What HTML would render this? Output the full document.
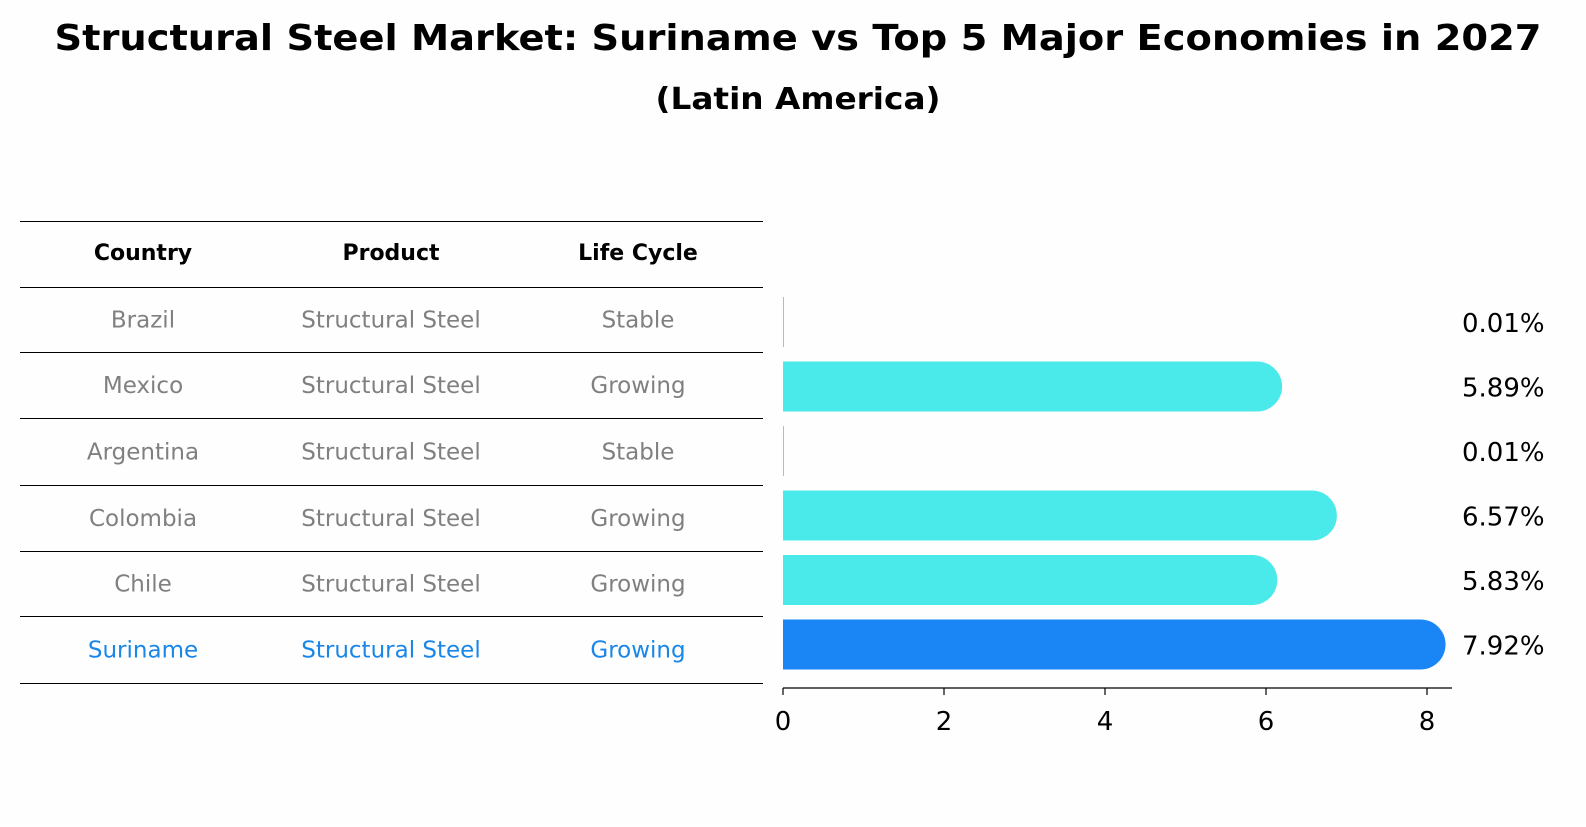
<!DOCTYPE html>
<html><head><meta charset="utf-8"><style>
body{margin:0;background:#fff;font-family:"DejaVu Sans","Liberation Sans",sans-serif;}
</style></head><body>
<svg width="1586" height="823" xmlns="http://www.w3.org/2000/svg" font-family="DejaVu Sans, Liberation Sans, sans-serif">
<rect width="1586" height="823" fill="#fefefe"/>
<text x="798" y="50" text-anchor="middle" font-size="36" font-weight="bold" textLength="1487" lengthAdjust="spacingAndGlyphs">Structural Steel Market: Suriname vs Top 5 Major Economies in 2027</text>
<text x="798" y="109" text-anchor="middle" font-size="30" font-weight="bold" textLength="285" lengthAdjust="spacingAndGlyphs">(Latin America)</text>
<g id="table"></g>
<g id="bars"></g>
</svg>
<script>
const countries=["Brazil","Mexico","Argentina","Colombia","Chile","Suriname"];
const products=["Structural Steel","Structural Steel","Structural Steel","Structural Steel","Structural Steel","Structural Steel"];
const lifecycle=["Stable","Growing","Stable","Growing","Growing","Growing"];
const values=[0.01,5.89,0.01,6.57,5.83,7.92];
const ticks=[0,2,4,6,8];
const NS="http://www.w3.org/2000/svg";
const x0=783, pxPerUnit=80.5;
const xs=v=>x0+v*pxPerUnit;
const rowY=i=>322+i*64.5;
function mk(tag,attrs,parent,text){const e=document.createElementNS(NS,tag);for(const k in attrs)e.setAttribute(k,attrs[k]);if(text!==undefined)e.textContent=text;parent.appendChild(e);return e;}
const tb=document.getElementById('table');
const lines=[221,287,352,418,485,551,616,683];
lines.forEach(y=>{const l=mk('line',{x1:20,x2:763,y1:y+0.5,y2:y+0.5,stroke:'#000','stroke-width':1},tb);

});
const cx=[143,391,638];
["Country","Product","Life Cycle"].forEach((h,j)=>{const t=mk('text',{x:cx[j],y:260,'text-anchor':'middle','font-size':22,'font-weight':'bold'},tb,h);

});
countries.forEach((c,i)=>{
  const col=i===5?'#1a86e8':'#808080';
  const y=(lines[i+1]+lines[i+2])/2+8;
  [c,products[i],lifecycle[i]].forEach((v,j)=>{const t=mk('text',{x:cx[j],y:y,'text-anchor':'middle','font-size':23,fill:col},tb,v);
  
  });
});
const bg=document.getElementById('bars');
values.forEach((v,i)=>{
  const yc=rowY(i), h=50, r=25;
  const col=i===5?'#1a86f5':'#4aeaea';
  const xe=xs(v);
  let b;
  if(v<0.1){b=mk('rect',{x:x0,y:yc-h/2,width:Math.max(1,xe-x0),height:h,fill:col},bg);}
  else{b=mk('path',{d:`M${x0},${yc-h/2} L${xe},${yc-h/2} A${r},${r} 0 0 1 ${xe},${yc+h/2} L${x0},${yc+h/2} Z`,fill:col},bg);}
  
  
  const t=mk('text',{x:1462,y:yc+10,'font-size':26},bg,v.toFixed(2)+'%');
  
  
});
const ax=mk('line',{x1:x0,x2:1452,y1:688,y2:688,stroke:'#000','stroke-width':1.2},bg);


ticks.forEach(t=>{
  const tl=mk('line',{x1:xs(t),x2:xs(t),y1:688,y2:695,stroke:'#000','stroke-width':1.2},bg);
  
  
  const tx=mk('text',{x:xs(t),y:730,'text-anchor':'middle','font-size':26},bg,String(t));
  
  
});
</script>
</body></html>
